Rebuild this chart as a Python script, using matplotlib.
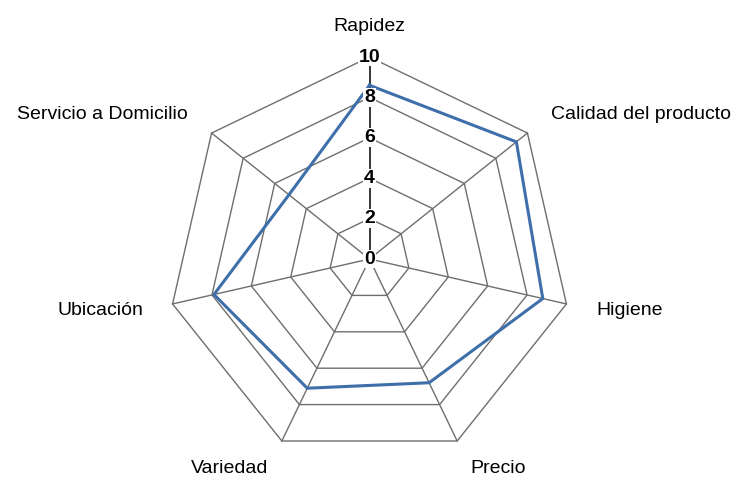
import numpy as np
import matplotlib
matplotlib.use('Agg')
import matplotlib.pyplot as plt

plt.rcParams['font.family'] = ['Liberation Sans', 'DejaVu Sans']

categorias = ['Rapidez', 'Calidad del producto', 'Higiene', 'Precio',
              'Variedad', 'Ubicación', 'Servicio a Domicilio']
valores = [8.6, 9.3, 8.8, 6.8, 7.1, 7.9, 5.1]
niveles = [2, 4, 6, 8, 10]
etiquetas_eje = ['0', '2', '4', '6', '8', '10']

n = len(categorias)
ang = np.arange(n) * 2 * np.pi / n   # clockwise from the top
ux = np.sin(ang)
uy = np.cos(ang)

W, H = 741, 483
px = 20.2          # pixels per unit
cx, cy = 369.5, 259

fig = plt.figure(figsize=(W / 100, H / 100), dpi=100)
ax = fig.add_axes([0, 0, 1, 1])
ax.set_xlim(-cx / px, (W - cx) / px)
ax.set_ylim(-(H - cy) / px, cy / px)
ax.axis('off')

gris = '#6e6e6e'
# rings
for r in niveles:
    xs = np.append(ux * r, ux[0] * r)
    ys = np.append(uy * r, uy[0] * r)
    ax.plot(xs, ys, color=gris, lw=1.0, zorder=1)
# spokes
for i in range(1, n):
    ax.plot([0, ux[i] * 10], [0, uy[i] * 10], color=gris, lw=1.0, zorder=1)
ax.plot([0, 0], [0, 10], color='black', lw=1.1, zorder=2)

# data
vx = np.array(valores) * ux
vy = np.array(valores) * uy
ax.plot(np.append(vx, vx[0]), np.append(vy, vy[0]), color='#3f6fab', lw=2.2, zorder=3)

# radial tick labels on the top axis
for i, t in enumerate(etiquetas_eje):
    ax.text(0, 2 * i, t, ha='center', va='center', fontsize=14, fontweight='bold',
            zorder=4, bbox=dict(boxstyle='square,pad=0.05', fc='white', ec='none'))

# category labels
rl = 11.5
for i, c in enumerate(categorias):
    s = ux[i]
    ha = 'center' if abs(s) < 1e-6 else ('left' if s > 0 else 'right')
    ax.text(ux[i] * rl, uy[i] * rl, c, ha=ha, va='center', fontsize=14)

fig.savefig('out.png', dpi=100, facecolor='white')
